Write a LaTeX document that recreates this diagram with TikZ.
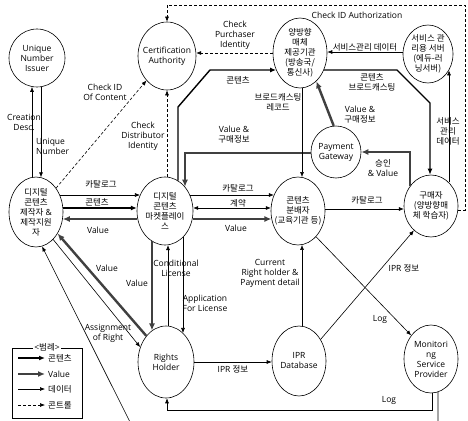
\documentclass[tikz,border=0pt]{standalone}
\usepackage{fontspec}
\setmainfont{Open Sans}
\newfontfamily\krf{Noto Sans CJK KR}
\newcommand\kr[1]{{\krf #1}}
\usetikzlibrary{shapes.geometric,arrows.meta,calc}
\newcommand\fs{\fontsize{8.5}{10}\selectfont}
% border point of an ellipse node at a given pixel row (horizontal lines)
\newcommand\ehpt[4]{\path let \p1=(#1.center), \p2=(#1.east), \p3=(#1.north) in ({\x1+(#3)*(\x2-\x1)*sqrt(1-((-#2pt-(\y1))/(\y3-\y1))^2)}, -#2pt) coordinate (#4);}
% border point of an ellipse node at a given pixel column (vertical lines)
\newcommand\evpt[4]{\path let \p1=(#1.center), \p2=(#1.east), \p3=(#1.north) in (#2pt, {\y1+(#3)*(\y3-\y1)*sqrt(1-((#2pt-(\x1))/(\x2-\x1))^2)}) coordinate (#4);}
\begin{document}
\begin{tikzpicture}[x=1pt,y=-1pt,
  ell/.style={draw, ellipse, inner sep=0pt, line width=0.6pt},
  txt/.style={align=center, font=\fs, inner sep=0pt},
  data/.style={line width=0.6pt, -{Latex[length=5pt,width=4pt]}},
  cont/.style={line width=1.4pt, -{Latex[length=6pt,width=5pt]}},
  val/.style={line width=2.4pt, black!75, -{Latex[length=7pt,width=6pt]}},
  ctrl/.style={line width=0.6pt, dash pattern=on 3pt off 2pt, -{Latex[length=5pt,width=4pt]}},
  both/.style={line width=0.6pt, {Latex[length=5pt,width=4pt]}-{Latex[length=5pt,width=4pt]}}]
\fill[white] (0,0) rectangle (468,420);
\useasboundingbox (0,0) rectangle (468,420);

% ---------- nodes ----------
\node[ell,minimum width=56pt,minimum height=58pt] (uni) at (37,58) {};
\node[txt] (uni-t) at (uni) {Unique\\Number\\Issuer};
\node[ell,minimum width=58pt,minimum height=68pt] (ca) at (167,56) {};
\node[txt] (ca-t) at (ca) {Certification\\Authority};
\node[ell,minimum width=54pt,minimum height=70pt] (bc) at (300,53) {};
\node[txt] (bc-t) at (bc) {\kr{양방향}\\\kr{매체}\\\kr{제공기관}\\\kr{(방송국/}\\\kr{통신사)}};
\node[ell,minimum width=50pt,minimum height=58pt] (svr) at (428,54) {};
\node[txt] (svr-t) at (svr) {\kr{서비스 관}\\\kr{리용 서버}\\\kr{(에듀-러}\\\kr{닝서버)}};
\node[ell,minimum width=50pt,minimum height=52pt] (pg) at (336,152) {};
\node[txt] (pg-t) at (pg) {Payment\\Gateway};
\node[ell,minimum width=54pt,minimum height=70pt] (maker) at (36,212) {};
\node[txt] (maker-t) at (maker) {\kr{디지털}\\\kr{콘텐츠}\\\kr{제작자} \&\\\kr{제작지원}\\\kr{자}};
\node[ell,minimum width=56pt,minimum height=68pt] (mkt) at (165,211) {};
\node[txt] (mkt-t) at (mkt) {\kr{디지털}\\\kr{콘텐츠}\\\kr{마켓플레이}\\\kr{스}};
\node[ell,minimum width=54pt,minimum height=68pt] (dist) at (298,211) {};
\node[txt] (dist-t) at (dist) {\kr{콘텐츠}\\\kr{분배자}\\\kr{(교육기관 등)}};
\node[ell,minimum width=54pt,minimum height=62pt] (buyer) at (431,206) {};
\node[txt] (buyer-t) at (buyer) {\kr{구매자}\\\kr{(양방향매}\\\kr{체 학습자)}};
\node[ell,minimum width=56pt,minimum height=72pt] (rh) at (166,362) {};
\node[txt] (rh-t) at (rh) {Rights\\Holder};
\node[ell,minimum width=54pt,minimum height=70pt] (ipr) at (299,361) {};
\node[txt] (ipr-t) at (ipr) {IPR\\Database};
\node[ell,minimum width=54pt,minimum height=68pt] (mon) at (431,359) {};
\node[txt] (mon-t) at (mon) {Monitori\\ng\\Service\\Provider};

% ---------- connectors ----------
% Unique number issuer
\evpt{maker}{32}{1}{a1}\evpt{uni}{32}{-1}{a2}
\draw[data] (a1) -- (a2);
\evpt{uni}{41}{-1}{a3}\evpt{maker}{41}{1}{a4}
\draw[data] (a3) -- (a4);
% control (dashed)
\draw[ctrl] (maker.50) -- (ca.-130);
\evpt{mkt}{167}{1}{b1}\evpt{ca}{167}{-1}{b2}
\draw[ctrl] (b1) -- (b2);
\ehpt{bc}{53}{-1}{c1}\ehpt{ca}{53}{1}{c2}
\draw[ctrl] (c1) -- (c2);
\ehpt{buyer}{210}{1}{d1}\evpt{ca}{167}{1}{d2}
\draw[ctrl] (d1) -- (465,210) -- (465,5) -- (167,5) -- (d2);
% contents to broadcaster
\evpt{mkt}{178}{1}{e1}\ehpt{bc}{70}{-1}{e2}
\draw[cont] (e1) -- (178,107) -- (210,70) -- (e2);
% value & purchase info to market
\ehpt{pg}{153}{-1}{f1}\evpt{mkt}{185}{1}{f2}
\draw[val] (f1) -- (185,153) -- (f2);
% broadcasting record
\evpt{bc}{302}{-1}{g1}\evpt{dist}{302}{1}{g2}
\draw[data] (g1) -- (g2);
% contents broadcasting
\ehpt{bc}{70}{1}{h1}\evpt{buyer}{430}{1}{h2}
\draw[cont] (h1) -- (397,70) -- (430,103) -- (h2);
% value & purchase info to broadcaster
\draw[val] (pg.95) -- (bc.-60);
% service management data
\ehpt{svr}{52}{-1}{i1}\ehpt{bc}{52}{1}{i2}
\draw[data] (i1) -- (i2);
\evpt{buyer}{449}{1}{j1}\evpt{svr}{449}{-1}{j2}
\draw[data] (j1) -- (j2);
% approval & value
\evpt{buyer}{410}{1}{k1}\ehpt{pg}{152}{1}{k2}
\draw[val] (k1) -- (410,152) -- (k2);
% maker <-> market
\ehpt{maker}{195}{1}{l1}\ehpt{mkt}{195}{-1}{l2}
\draw[data] (l1) -- (l2);
\ehpt{maker}{208}{1}{l3}\ehpt{mkt}{208}{-1}{l4}
\draw[cont] (l3) -- (l4);
\ehpt{mkt}{219}{-1}{l5}\ehpt{maker}{219}{1}{l6}
\draw[val] (l5) -- (l6);
% market <-> distributor
\ehpt{mkt}{195}{1}{m1}\ehpt{dist}{195}{-1}{m2}
\draw[data] (m1) -- (m2);
\ehpt{mkt}{208}{1}{m3}\ehpt{dist}{208}{-1}{m4}
\draw[both] (m3) -- (m4);
\ehpt{mkt}{219}{1}{m5}\ehpt{dist}{219}{-1}{m6}
\draw[val] (m5) -- (m6);
% distributor -> buyer
\ehpt{dist}{209}{1}{n1}\ehpt{buyer}{209}{-1}{n2}
\draw[data] (n1) -- (n2);
% log / IPR info diagonals
\draw[data] (dist.-55) -- (mon.130);
\draw[data] (ipr.45) -- (buyer.-125);
% current right holder
\evpt{ipr}{302}{1}{o1}\evpt{dist}{302}{-1}{o2}
\draw[data] (o1) -- (o2);
% market <-> rights holder
\evpt{mkt}{152}{-1}{p1}\evpt{rh}{152}{1}{p2}
\draw[val] (p1) -- (p2);
\evpt{rh}{168}{1}{p3}\evpt{mkt}{168}{-1}{p4}
\draw[data] (p3) -- (p4);
\evpt{mkt}{183}{-1}{p5}\evpt{rh}{183}{1}{p6}
\draw[data] (p5) -- (p6);
% maker <-> rights holder
\draw[val] (rh.127) -- (maker.-45);
\draw[data] (maker.-58) -- (rh.150);
% IPR info to database
\ehpt{rh}{362}{1}{q1}\ehpt{ipr}{362}{-1}{q2}
\draw[data] (q1) -- (q2);
% log to rights holder
\evpt{mon}{432}{-1}{r1}\evpt{rh}{167}{-1}{r2}
\draw[data] (r1) -- (432,410) -- (167,410) -- (r2);
% line leaving the picture
\evpt{mon}{438}{-1}{s1}
\begin{scope}
\clip (0,0) rectangle (468,420);
\draw[data] (s1) -- (438,440) -- (139,440) -- (maker.-80);
\end{scope}

% ---------- labels ----------
\node[txt] (lb1) at (24,122) {Creation\\Desc.};
\node[txt,align=left,anchor=west] (lb2) at (36,146) {Unique\\Number};
\node[txt] (lb3) at (105,92) {Check ID\\Of Content};
\node[txt] (lb4) at (143,136) {Check\\Distributor\\Identity};
\node[txt] (lb5) at (235,35) {Check\\Purchaser\\Identity};
\node[txt] (lb6) at (357,15) {Check ID Authorization};
\node[txt] (lb7) at (238,80) {\kr{콘텐츠}};
\node[txt] (lb8) at (278,102) {\kr{브로드캐스팅}\\\kr{레코드}};
\node[txt] (lb9) at (234,135) {Value \&\\\kr{구매정보}};
\node[txt] (lb10) at (372,82) {\kr{콘텐츠}\\\kr{브로드캐스팅}};
\node[txt] (lb11) at (360,115) {Value \&\\\kr{구매정보}};
\node[txt] (lb12) at (365,47) {\kr{서비스관리 데이터}};
\node[txt] (lb13) at (448,131) {\kr{서비스}\\\kr{관리}\\\kr{데이터}};
\node[txt] (lb14) at (383,168) {\kr{승인}\\\& Value};
\node[txt] (lb15) at (101,184) {\kr{카탈로그}};
\node[txt] (lb16) at (97,202) {\kr{콘텐츠}};
\node[txt] (lb17) at (98,230) {Value};
\node[txt] (lb18) at (238,188) {\kr{카탈로그}};
\node[txt] (lb19) at (238,203) {\kr{계약}};
\node[txt] (lb20) at (236,228) {Value};
\node[txt] (lb21) at (367,200) {\kr{카탈로그}};
\node[txt] (lb22) at (404,268) {IPR \kr{정보}};
\node[txt] (lb23) at (380,319) {Log};
\node[txt] (lb24) at (270,273) {Current\\Right holder \&\\Payment detail};
\node[txt] (lb25) at (137,283) {Value};
\node[txt] (lb26) at (176,268) {Conditional\\License};
\node[txt] (lb27) at (205,303) {Application\\For License};
\node[txt] (lb28) at (107,268) {Value};
\node[txt] (lb29) at (108,333) {Assignment\\of Right};
\node[txt] (lb30) at (233,369) {IPR \kr{정보}};
\node[txt] (lb31) at (389,400) {Log};

% ---------- legend ----------
\node[draw,line width=0.6pt,minimum width=70pt,minimum height=70pt,inner sep=0pt] (leg) at (47,383) {};
\node[txt,fill=white,inner sep=1pt] (leg-t) at (leg.north) {<\kr{범례}>};
\coordinate (k1s) at (18,358); \coordinate (k1e) at (45,358);
\coordinate (k2s) at (18,374); \coordinate (k2e) at (45,374);
\coordinate (k3s) at (18,389); \coordinate (k3e) at (45,389);
\coordinate (k4s) at (18,405); \coordinate (k4e) at (45,405);
\draw[cont] (k1s) -- (k1e);
\draw[val] (k2s) -- (k2e);
\draw[data] (k3s) -- (k3e);
\draw[ctrl] (k4s) -- (k4e);
\node[txt,anchor=west] (k1t) at (48,358) {\kr{콘텐츠}};
\node[txt,anchor=west] (k2t) at (48,374) {Value};
\node[txt,anchor=west] (k3t) at (48,389) {\kr{데이터}};
\node[txt,anchor=west] (k4t) at (48,405) {\kr{콘트롤}};
\end{tikzpicture}
\end{document}
